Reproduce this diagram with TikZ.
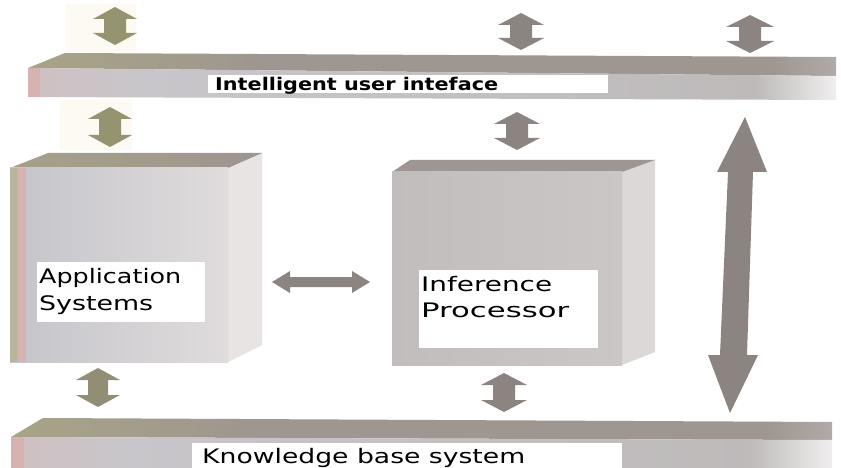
\documentclass[tikz,border=0pt]{standalone}
\usepackage{fontspec}
\setmainfont{DejaVu Sans}

% palette
\definecolor{slabtopL}{RGB}{168,164,134}
\definecolor{slabtopM}{RGB}{158,150,144}
\definecolor{slabtopR}{RGB}{176,170,168}
\definecolor{slabfrontL}{RGB}{208,192,194}
\definecolor{slabfrontM}{RGB}{200,198,202}
\definecolor{slabfrontN}{RGB}{190,186,186}
\definecolor{slabfrontR}{RGB}{240,238,238}
\definecolor{blockfrontL}{RGB}{196,196,202}
\definecolor{blockfrontM}{RGB}{204,202,206}
\definecolor{blockfrontR}{RGB}{224,220,220}
\definecolor{blockside}{RGB}{232,228,228}
\definecolor{blocktop}{RGB}{166,160,136}
\definecolor{blockpink}{RGB}{214,178,176}
\definecolor{infront}{RGB}{194,189,189}
\definecolor{infside}{RGB}{220,216,216}
\definecolor{inftop}{RGB}{158,150,146}
\definecolor{arrowgray}{RGB}{140,132,128}
\definecolor{arrowolive}{RGB}{150,148,112}
\definecolor{cream}{RGB}{252,250,243}

% slab faces: grey along most of the length, washing out at the far right end
\pgfdeclarehorizontalshading{slabfront}{100bp}{color(0bp)=(slabfrontL); color(25bp)=(slabfrontL);
  color(32bp)=(slabfrontM); color(70bp)=(slabfrontN); color(75bp)=(slabfrontR); color(100bp)=(slabfrontR)}
\pgfdeclarehorizontalshading{slabtop}{100bp}{color(0bp)=(slabtopL); color(25bp)=(slabtopL);
  color(40bp)=(slabtopM); color(71bp)=(slabtopM); color(75bp)=(slabtopR); color(100bp)=(slabtopR)}

% vertical two-headed block arrow:
% #1 colour, #2 centre x, #3 top y, #4 bottom y, #5 shaft half width, #6 head half width, #7 head length
\newcommand\vbiarrow[7]{%
  \fill[#1] (#2,#3) -- (#2+#6,#3+#7) -- (#2+#5,#3+#7) -- (#2+#5,#4-#7)
    -- (#2+#6,#4-#7) -- (#2,#4) -- (#2-#6,#4-#7) -- (#2-#5,#4-#7)
    -- (#2-#5,#3+#7) -- (#2-#6,#3+#7) -- cycle;}
% horizontal two-headed block arrow:
% #1 colour, #2 left x, #3 right x, #4 centre y, #5 shaft half height, #6 head half height, #7 head length
\newcommand\hbiarrow[7]{%
  \fill[#1] (#2,#4) -- (#2+#7,#4-#6) -- (#2+#7,#4-#5) -- (#3-#7,#4-#5)
    -- (#3-#7,#4-#6) -- (#3,#4) -- (#3-#7,#4+#6) -- (#3-#7,#4+#5)
    -- (#2+#7,#4+#5) -- (#2+#7,#4+#6) -- cycle;}
% stretch a line of text to a given width, keeping its height
\newcommand\wideline[2]{\resizebox{#1}{\height}{#2}}

\begin{document}
\begin{tikzpicture}[x=1pt,y=-1pt,
  labelbox/.style={fill=white, draw=none, inner sep=0pt, anchor=north west},
  labeltext/.style={anchor=base west, inner sep=0pt, text=black,
    font=\fontsize{20}{24}\selectfont},
  uitextstyle/.style={anchor=base west, inner sep=0pt, text=black,
    font=\bfseries\fontsize{17.5}{21}\selectfont}]
\useasboundingbox (0,0) rectangle (841,468);
\fill[white] (0,0) rectangle (841,468);

% faint paper patches behind the left-hand arrows
\fill[cream] (66,4) rectangle (136,52);
\fill[cream] (60,100) rectangle (132,150);

% ---------------- top slab: user interface ----------------
\shade[shading=slabtop] (28,68) -- (65,53) -- (836,57) -- (836,76) -- cycle;
\shade[shading=slabfront] (28,68) -- (836,76) -- (836,100) -- (28,97) -- cycle;
\fill[blockpink] (28,68) -- (40,68.1) -- (40,97) -- (28,97) -- cycle;
\node[labelbox, minimum width=400pt, minimum height=18pt] (uibox) at (208,75) {};
\node[uitextstyle] (uitext) at (215,91) {\wideline{283pt}{Intelligent user inteface}};

% ---------------- application block ----------------
\fill[blockside] (228,168) -- (262,153) -- (262,345) -- (228,362) -- cycle;
\shade[left color=blocktop, right color=slabtopM]
  (10,168) -- (48,153) -- (262,153) -- (228,168) -- cycle;
\shade[left color=blockfrontL, middle color=blockfrontM, right color=blockfrontR]
  (10,168) rectangle (228,362);
\fill[blockpink] (17,168) rectangle (26,362);
\fill[arrowolive!70!white] (10,168) rectangle (17,362);
\node[labelbox, minimum width=168pt, minimum height=60pt] (appbox) at (37,262) {};
\node[labeltext] (app1) at (39,283) {\wideline{142pt}{Application}};
\node[labeltext] (app2) at (39,310) {\wideline{114pt}{Systems}};

% ---------------- inference block ----------------
\fill[infside] (622,172) -- (655,160) -- (655,352) -- (622,365) -- cycle;
\fill[inftop] (392,172) -- (410,160) -- (655,160) -- (622,172) -- cycle;
\shade[left color=infront, right color=infront!85!white]
  (392,172) rectangle (622,365);
\node[labelbox, minimum width=179pt, minimum height=78pt] (infbox) at (419,270) {};
\node[labeltext] (inf1) at (421,291) {\wideline{131pt}{Inference}};
\node[labeltext] (inf2) at (421,317) {\wideline{148pt}{Processor}};

% ---------------- bottom slab: knowledge base ----------------
\shade[shading=slabtop] (11,437) -- (43,418) -- (832,422) -- (832,440) -- cycle;
\shade[shading=slabfront] (11,437) -- (832,440) -- (832,468) -- (11,468) -- cycle;
\fill[blockpink] (11,437) -- (24,437.1) -- (24,468) -- (11,468) -- cycle;
\node[labelbox, minimum width=430pt, minimum height=25pt] (kbbox) at (192,443) {};
\node[labeltext] (kbtext) at (202,463) {\wideline{323pt}{Knowledge base system}};

% ---------------- arrows ----------------
% above the interface slab
\vbiarrow{arrowolive}{115}{7}{45}{11}{22}{12}
\vbiarrow{arrowgray}{521}{13}{50}{11}{23}{12}
\vbiarrow{arrowgray}{750}{15}{53}{11}{24}{12}
% interface slab to the blocks
\vbiarrow{arrowolive}{110}{107}{147}{11}{22}{12}
\vbiarrow{arrowgray}{517}{112}{150}{11}{23}{12}
% blocks to the knowledge slab
\vbiarrow{arrowolive!60!arrowgray}{98}{368}{407}{10}{22}{12}
\vbiarrow{arrowgray}{504}{373}{412}{11}{23}{12}
% application <-> inference
\hbiarrow{arrowgray}{272}{370}{282}{5}{11}{18}
% long arrow: interface <-> knowledge base
\fill[arrowgray] (745,117) -- (767,172) -- (753,172) -- (747,355) -- (758,355)
  -- (730,413) -- (708,355) -- (720,355) -- (728,172) -- (717,172) -- cycle;
\end{tikzpicture}
\end{document}
